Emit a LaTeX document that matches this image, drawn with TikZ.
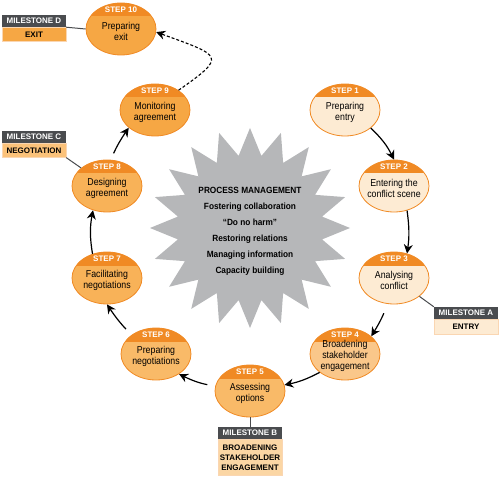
\documentclass[tikz,border=0pt]{standalone}
\usepackage{fontspec}
\setmainfont{Liberation Sans}
\newfontfamily\condfont{Liberation Sans}[FakeStretch=0.88]
\newfontfamily\hubfont{Liberation Sans}[FakeStretch=0.92]
\usepackage{tikz}
\usetikzlibrary{shapes, arrows.meta, positioning, shapes.geometric, calc}

\definecolor{bandorange}{HTML}{F08A24}
\definecolor{stepcream}{HTML}{FDEBD3}
\definecolor{fillfour}{HTML}{FAC78A}
\definecolor{fillfive}{HTML}{F9BA68}
\definecolor{fillseven}{HTML}{F8B258}
\definecolor{fillnine}{HTML}{F6A744}
\definecolor{msgrey}{HTML}{4A4C4F}
\definecolor{hubgrey}{HTML}{B6B7B9}
\definecolor{msA}{HTML}{FDEBD3}
\definecolor{msB}{HTML}{FBD6A4}
\definecolor{msC}{HTML}{FBC27A}
\definecolor{msD}{HTML}{F6A744}

\begin{document}
\begin{tikzpicture}[x=1pt, y=1pt]
            \tikzstyle{stepbox} = [draw=bandorange, line width=0.8pt, ellipse, minimum width=70pt, minimum height=52pt, inner sep=0pt, path picture={\fill[bandorange] ([yshift=-13.5pt]path picture bounding box.north west) rectangle (path picture bounding box.north east);}]
            \tikzstyle{steptag} = [text=white, font=\bfseries\fontsize{8}{9}\selectfont, inner sep=0pt]
            \tikzstyle{steptext} = [align=center, font=\condfont\fontsize{10}{11}\selectfont, inner sep=0pt]
            \tikzstyle{msheader} = [fill=msgrey, text=white, font=\bfseries\fontsize{8}{10}\selectfont, minimum width=64pt, minimum height=12pt, inner sep=0pt]
            \tikzstyle{msbody} = [draw=bandorange!35, line width=0.4pt, minimum width=64pt, inner sep=0pt, align=center, font=\bfseries\fontsize{8}{10}\selectfont]
            \tikzstyle{flow} = [-{Stealth[length=9pt,width=9pt]}, line width=1.2pt]
            \tikzstyle{msline} = [msgrey, line width=1pt]

            \useasboundingbox (0,0) rectangle (500,477);

            % centre
            \fill[hubgrey, shift={(250,249)}] (90:100) \foreach \a in {0,18,...,342} { -- ({90+\a}:100) -- ({99+\a}:73) } -- cycle;
            \node[align=center, font=\hubfont\bfseries\fontsize{9}{16}\selectfont] (hubtext) at (250,246) {PROCESS MANAGEMENT\\Fostering collaboration\\“Do no harm”\\Restoring relations\\Managing information\\Capacity building};

            % steps
            \node[stepbox, fill=stepcream] (s1) at (345,367) {};
            \node[steptag] (t1) at ([yshift=-7pt]s1.north) {STEP 1};
            \node[steptext] (n1) at ([yshift=-2pt]s1.center) {Preparing\\entry};

            \node[stepbox, fill=stepcream] (s2) at (394,291) {};
            \node[steptag] (t2) at ([yshift=-7pt]s2.north) {STEP 2};
            \node[steptext] (n2) at ([yshift=-2pt]s2.center) {Entering the\\conflict scene};

            \node[stepbox, fill=stepcream] (s3) at (394,199) {};
            \node[steptag] (t3) at ([yshift=-7pt]s3.north) {STEP 3};
            \node[steptext] (n3) at ([yshift=-2pt]s3.center) {Analysing\\conflict};

            \node[stepbox, fill=fillfour] (s4) at (345,123) {};
            \node[steptag] (t4) at ([yshift=-7pt]s4.north) {STEP 4};
            \node[steptext] (n4) at ([yshift=-2pt]s4.center) {Broadening\\stakeholder\\engagement};

            \node[stepbox, fill=fillfive] (s5) at (250,86) {};
            \node[steptag] (t5) at ([yshift=-7pt]s5.north) {STEP 5};
            \node[steptext] (n5) at ([yshift=-2pt]s5.center) {Assessing\\options};

            \node[stepbox, fill=fillfive] (s6) at (156,123) {};
            \node[steptag] (t6) at ([yshift=-7pt]s6.north) {STEP 6};
            \node[steptext] (n6) at ([yshift=-2pt]s6.center) {Preparing\\negotiations};

            \node[stepbox, fill=fillseven] (s7) at (107,199) {};
            \node[steptag] (t7) at ([yshift=-7pt]s7.north) {STEP 7};
            \node[steptext] (n7) at ([yshift=-2pt]s7.center) {Facilitating\\negotiations};

            \node[stepbox, fill=fillseven] (s8) at (107,291) {};
            \node[steptag] (t8) at ([yshift=-7pt]s8.north) {STEP 8};
            \node[steptext] (n8) at ([yshift=-2pt]s8.center) {Designing\\agreement};

            \node[stepbox, fill=fillnine] (s9) at (155,367) {};
            \node[steptag] (t9) at ([yshift=-7pt]s9.north) {STEP 9};
            \node[steptext] (n9) at ([yshift=-2pt]s9.center) {Monitoring\\agreement};

            \node[stepbox, fill=fillnine] (s10) at (121,448) {};
            \node[steptag] (t10) at ([yshift=-7pt]s10.north) {STEP 10};
            \node[steptext] (n10) at ([yshift=-2pt]s10.center) {Preparing\\exit};

            % milestones
            \node[msheader] (mDh) at (34,456) {MILESTONE D};
            \node[msbody, fill=msD, minimum height=14pt, below=0pt of mDh] (mDb) {EXIT};
            \node[msheader] (mCh) at (34,340) {MILESTONE C};
            \node[msbody, fill=msC, minimum height=14pt, below=0pt of mCh] (mCb) {NEGOTIATION};
            \node[msheader] (mAh) at (466,164) {MILESTONE A};
            \node[msbody, fill=msA, minimum height=15pt, below=0pt of mAh] (mAb) {ENTRY};
            \node[msheader] (mBh) at (250,44) {MILESTONE B};
            \node[msbody, fill=msB, minimum height=36pt, below=0pt of mBh] (mBb) {BROADENING\\STAKEHOLDER\\ENGAGEMENT};

            \draw[msline] (mDb.north east) -- (s10.west);
            \draw[msline] (mCb.south east) -- (s8);
            \draw[msline] (mAh.north west) -- (s3);
            \draw[msline] (mBh.north) -- (s5.south);

            % cycle
            \draw[flow] (s1.-35) to[bend left=10] (s2.north);
            \draw[flow] (s2.-62) to[bend left=8] (s3.62);
            \draw[flow, shorten <=10pt] (s3.-104) to[bend left=5] (s4.34);
            \draw[flow] (s4.-144) to[bend left=8] (s5.10);
            \draw[flow, shorten <=8pt] (s5.172) to[bend left=8] (s6.-41);
            \draw[flow, shorten <=8pt] (s6.142) to[bend left=5] (s7.south);
            \draw[flow] (s7.121) to[bend left=10] (s8.-120);
            \draw[flow, shorten <=7pt] (s8.82) to[bend left=5] (s9.-146);
            \draw[flow, line width=1.1pt, dash pattern=on 3pt off 2pt] (s9.40) .. controls +(35:60) and +(-20:70) .. (s10.-5);
        \end{tikzpicture}
\end{document}
